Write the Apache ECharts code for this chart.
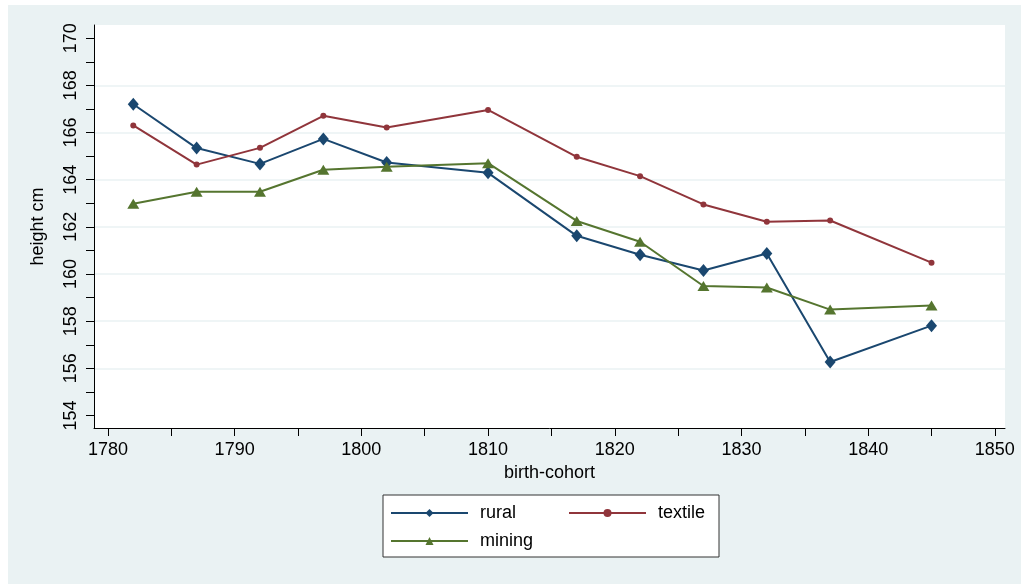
<!DOCTYPE html>
<html>
<head>
<meta charset="utf-8">
<script src="https://cdn.jsdelivr.net/npm/echarts@6/dist/echarts.min.js"></script>
<style>
  html, body { margin: 0; padding: 0; background: #fff; }
  #chart { position: absolute; left: 8px; top: 5px; width: 1013px; height: 579px; }
</style>
</head>
<body>
<div id="chart"></div>
<script>
// birth cohort vs mean height, three occupational groups
const cohorts = [1782, 1787, 1792, 1797, 1802, 1810, 1817, 1822, 1827, 1832, 1837, 1845];
const rural   = [167.2, 165.34, 164.67, 165.73, 164.73, 164.29, 161.62, 160.82, 160.15, 160.87, 156.27, 157.81];
const textile = [166.3, 164.64, 165.35, 166.71, 166.21, 166.96, 164.97, 164.15, 162.95, 162.22, 162.27, 160.48];
const mining  = [162.98, 163.49, 163.49, 164.42, 164.55, 164.70, 162.25, 161.37, 159.49, 159.43, 158.49, 158.66];

const xTicks  = [1780, 1785, 1790, 1795, 1800, 1805, 1810, 1815, 1820, 1825, 1830, 1835, 1840, 1845, 1850];
const xLabels = [1780, 1790, 1800, 1810, 1820, 1830, 1840, 1850];
const yTicks  = [154, 155, 156, 157, 158, 159, 160, 161, 162, 163, 164, 165, 166, 167, 168, 169, 170];
const yLabels = [154, 156, 158, 160, 162, 164, 166, 168, 170];
const yGrid   = [156, 158, 160, 162, 164, 166, 168];

const FONT = 'Liberation Sans, Arial, sans-serif';
const pairs = (ys) => cohorts.map((c, i) => [c, ys[i]]);

const chart = echarts.init(document.getElementById('chart'));
chart.setOption({
  animation: false,
  backgroundColor: '#eaf2f3',
  textStyle: { fontFamily: FONT },
  grid: { left: 86, top: 20, right: 16, bottom: 156, show: true, backgroundColor: '#fff', borderWidth: 0 },
  xAxis: {
    type: 'value',
    min: 1778.9,
    max: 1850.8,
    name: 'birth-cohort',
    nameLocation: 'middle',
    nameGap: 34,
    nameTextStyle: { fontSize: 18, color: '#000', fontFamily: FONT },
    axisLine: { lineStyle: { color: '#000', width: 1 } },
    axisTick: { customValues: xTicks, length: 8, lineStyle: { color: '#000' } },
    axisLabel: {
      customValues: xLabels, fontSize: 18, color: '#000', margin: 13, fontFamily: FONT,
      formatter: (v) => String(v)
    },
    splitLine: { show: false }
  },
  yAxis: [
    {
      type: 'value',
      min: 153.47,
      max: 170.56,
      name: 'height cm',
      nameLocation: 'middle',
      nameGap: 47,
      nameTextStyle: { fontSize: 18, color: '#000', fontFamily: FONT },
      axisLine: { show: true, lineStyle: { color: '#000', width: 1 } },
      axisTick: { show: true, customValues: yTicks, length: 8, lineStyle: { color: '#000' } },
      axisLabel: {
        customValues: yLabels, rotate: 90, fontSize: 18, color: '#000', margin: 14, fontFamily: FONT,
        formatter: (v) => String(v)
      },
      splitLine: { show: false }
    },
    {
      // only used for the horizontal grid lines
      type: 'value',
      min: 153.47,
      max: 170.56,
      position: 'left',
      offset: 0,
      axisLine: { show: false },
      axisTick: { show: false, customValues: yGrid },
      axisLabel: { show: false },
      splitLine: { show: true, lineStyle: { color: '#eaf2f3', width: 1.5 } }
    }
  ],
  legend: {
    left: 375,
    top: 490,
    width: 330,
    orient: 'horizontal',
    itemWidth: 77,
    itemHeight: 10,
    itemGap: 8,
    padding: [8, 6, 6, 7],
    backgroundColor: '#fff',
    borderColor: '#333',
    borderWidth: 1,
    textStyle: { fontSize: 18, color: '#000', fontFamily: FONT, lineHeight: 20, padding: [0, 0, 0, 7] },
    data: [
      { name: 'rural', textStyle: { width: 80 } },
      { name: 'textile', textStyle: { width: 55 } },
      { name: 'mining', textStyle: { width: 80 } }
    ]
  },
  series: [
    {
      name: 'rural',
      type: 'line',
      data: pairs(rural),
      yAxisIndex: 0,
      symbol: 'diamond',
      symbolSize: [11, 13],
      showAllSymbol: true,
      lineStyle: { color: '#1a476f', width: 2 },
      itemStyle: { color: '#1a476f' }
    },
    {
      name: 'textile',
      type: 'line',
      data: pairs(textile),
      yAxisIndex: 0,
      symbol: 'circle',
      symbolSize: 6,
      showAllSymbol: true,
      lineStyle: { color: '#90353b', width: 2 },
      itemStyle: { color: '#90353b' }
    },
    {
      name: 'mining',
      type: 'line',
      data: pairs(mining),
      yAxisIndex: 0,
      symbol: 'triangle',
      symbolSize: [12, 10],
      showAllSymbol: true,
      lineStyle: { color: '#55752f', width: 2 },
      itemStyle: { color: '#55752f' }
    }
  ]
});
</script>
</body>
</html>
